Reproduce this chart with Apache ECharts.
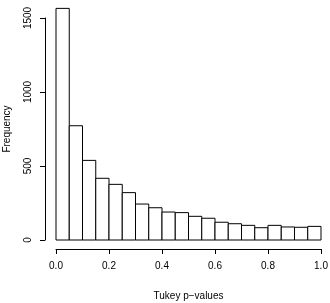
<!DOCTYPE html>
<html>
<head>
<meta charset="utf-8">
<script src="https://cdn.jsdelivr.net/npm/echarts@6/dist/echarts.min.js"></script>
<style>
  html, body { margin: 0; padding: 0; background: #fff; }
  #hist { width: 330px; height: 303px; }
</style>
</head>
<body>
<div id="hist"></div>
<script>
// bins of width 0.05 from 0 to 1
const binEdges = [0, 0.05, 0.1, 0.15, 0.2, 0.25, 0.3, 0.35, 0.4, 0.45, 0.5,
  0.55, 0.6, 0.65, 0.7, 0.75, 0.8, 0.85, 0.9, 0.95, 1.0];
const counts = [1565, 772, 538, 417, 376, 320, 243, 218, 189, 185,
  160, 147, 120, 110, 99, 83, 99, 88, 86, 92];
const xTicks = [0, 0.2, 0.4, 0.6, 0.8, 1.0];
const yTicks = [0, 500, 1000, 1500];

let bins = counts.map((c, i) => [binEdges[i], binEdges[i + 1], c]);

let chart = echarts.init(document.getElementById("hist"));
let font = "Liberation Sans, Arial, sans-serif";

let option = {
  animation: false,
  grid: {
    left: 56,
    right: 9,
    top: 18,
    bottom: 63,
    containLabel: false,
    outerBoundsMode: "none"
  },
  xAxis: {
    type: "value",
    min: 0,
    max: 1,
    interval: 0.2,
    offset: 9,
    name: "Tukey p\u2212values",
    nameLocation: "middle",
    nameGap: 42,
    nameTextStyle: { fontFamily: font, fontSize: 10, color: "#000" },
    axisLine: { show: true, onZero: false, lineStyle: { color: "#000", width: 1 } },
    axisTick: { show: true, length: 5, lineStyle: { color: "#000" } },
    axisLabel: {
      margin: 12,
      fontFamily: font,
      fontSize: 10,
      color: "#000",
      formatter: v => xTicks.includes(v) ? v.toFixed(1) : ""
    },
    splitLine: { show: false }
  },
  yAxis: {
    type: "value",
    min: 0,
    max: 1500,
    interval: 500,
    offset: 11,
    name: "Frequency",
    nameLocation: "middle",
    nameGap: 33,
    nameTextStyle: { fontFamily: font, fontSize: 10, color: "#000" },
    axisLine: { show: true, onZero: false, lineStyle: { color: "#000", width: 1 } },
    axisTick: { show: true, length: 5, lineStyle: { color: "#000" } },
    axisLabel: {
      rotate: 90,
      margin: 12,
      fontFamily: font,
      fontSize: 10,
      color: "#000",
      formatter: v => yTicks.includes(v) ? String(v) : ""
    },
    splitLine: { show: false }
  },
  series: [
    {
      type: "custom",
      clip: false,
      data: bins,
      renderItem: function (params, api) {
        let p0 = api.coord([api.value(0), api.value(2)]);
        let p1 = api.coord([api.value(1), 0]);
        return {
          type: "rect",
          shape: { x: p0[0], y: p0[1], width: p1[0] - p0[0], height: p1[1] - p0[1] },
          style: { fill: "#fff", stroke: "#000", lineWidth: 1 }
        };
      }
    }
  ]
};
chart.setOption(option);
</script>
</body>
</html>
